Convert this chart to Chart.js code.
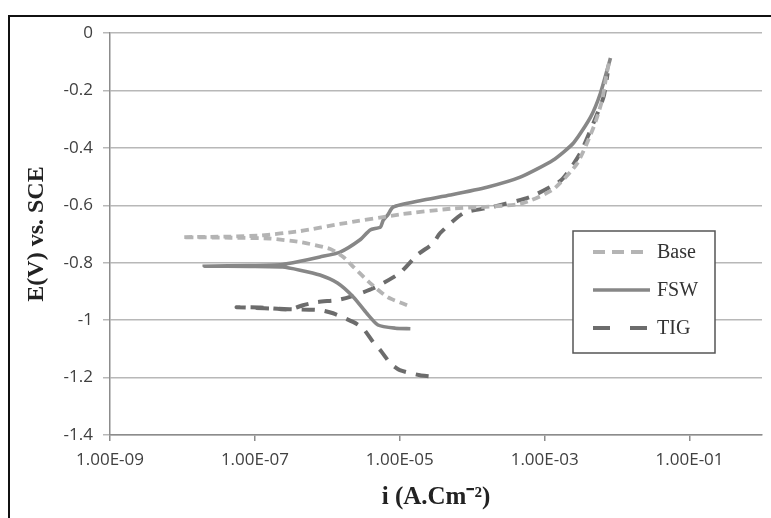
<!DOCTYPE html>
<html>
<head>
<meta charset="utf-8">
<script src="https://cdn.jsdelivr.net/npm/chart.js@4.4.1/dist/chart.umd.min.js"></script>
<style>
  html, body { margin: 0; padding: 0; background: #fff; }
  #wrap { width: 771px; height: 518px; }
</style>
</head>
<body>
<div id="wrap"><canvas id="chart" width="771" height="518"></canvas></div>
<script>
// tick labels on the current axis
const xTickValues = [1e-9, 1e-7, 1e-5, 1e-3, 1e-1];
const xTickLabels = ['1.00E-09', '1.00E-07', '1.00E-05', '1.00E-03', '1.00E-01'];

// Base metal: cathodic end -> Ecorr -> anodic end
const baseI = [1.26e-5, 6.8e-6, 3.9e-6, 2.3e-6, 1.66e-6, 1.1e-6, 4.2e-7, 1.6e-7, 4.6e-8, 1.0e-8,
  4.6e-8, 1.2e-7, 4.2e-7, 1.5e-6, 1.0e-5, 5.0e-5, 4.6e-4, 1.3e-3, 2.8e-3, 4.7e-3, 6.2e-3, 7.2e-3, 7.8e-3];
const baseE = [-0.948, -0.920, -0.871, -0.815, -0.780, -0.752, -0.728, -0.716, -0.713, -0.711,
  -0.709, -0.705, -0.690, -0.665, -0.632, -0.612, -0.595, -0.545, -0.455, -0.330, -0.235, -0.140, -0.100];

// FSW
const fswI = [1.4e-5, 8.7e-6, 5.0e-6, 3.5e-6, 2.3e-6, 1.38e-6, 7.9e-7, 4.2e-7, 2.4e-7, 8.5e-8, 2.0e-8,
  8.5e-8, 2.4e-7, 4.2e-7, 7.9e-7, 1.5e-6, 2.8e-6, 3.9e-6, 5.4e-6, 5.9e-6, 6.8e-6, 8.1e-6,
  1.9e-5, 5.0e-5, 1.6e-4, 4.6e-4, 1.3e-3, 2.5e-3, 4.3e-3, 5.9e-3, 8.1e-3];
const fswE = [-1.030, -1.028, -1.017, -0.976, -0.920, -0.871, -0.843, -0.826, -0.815, -0.813, -0.812,
  -0.810, -0.806, -0.795, -0.780, -0.763, -0.721, -0.686, -0.676, -0.652, -0.634, -0.606,
  -0.584, -0.564, -0.537, -0.502, -0.443, -0.383, -0.293, -0.209, -0.087];

// TIG
const tigI = [2.5e-5, 1.9e-5, 1.0e-5, 7.4e-6, 5.4e-6, 4.3e-6, 3.1e-6, 2.3e-6, 1.2e-6, 7.9e-7, 3.0e-7, 5.6e-8,
  1.2e-7, 3.0e-7, 4.6e-7, 7.2e-7, 1.38e-6, 2.0e-6, 4.3e-6, 1.0e-5, 1.74e-5, 2.9e-5, 3.6e-5, 7.6e-5,
  1.9e-4, 6.3e-4, 1.7e-3, 3.1e-3, 4.7e-3, 6.5e-3, 7.4e-3];
const tigE = [-1.195, -1.192, -1.174, -1.150, -1.105, -1.077, -1.028, -1.007, -0.976, -0.965, -0.962, -0.955,
  -0.956, -0.963, -0.948, -0.937, -0.930, -0.920, -0.889, -0.836, -0.773, -0.732, -0.697, -0.627,
  -0.606, -0.571, -0.512, -0.418, -0.314, -0.223, -0.140];

const toPoints = (xs, ys) => xs.map((x, k) => ({ x: x, y: ys[k] }));

// outer black frame of the figure
const framePlugin = {
  id: 'frame',
  beforeDraw(chart) {
    const ctx = chart.ctx;
    ctx.save();
    ctx.fillStyle = '#fff';
    ctx.fillRect(0, 0, chart.width, chart.height);
    ctx.strokeStyle = '#111';
    ctx.lineWidth = 2;
    ctx.strokeRect(9, 16, chart.width + 20, chart.height + 20);
    ctx.restore();
  }
};

// boxed legend inside the plot, drawn from the datasets
const boxLegend = {
  id: 'boxLegend',
  afterDraw(chart) {
    const ctx = chart.ctx;
    const bx = 573, by = 231, bw = 142, bh = 122;
    ctx.save();
    ctx.fillStyle = '#fff';
    ctx.fillRect(bx, by, bw, bh);
    ctx.strokeStyle = '#555';
    ctx.lineWidth = 1.5;
    ctx.strokeRect(bx, by, bw, bh);
    ctx.font = '20px "Liberation Serif", serif';
    ctx.textBaseline = 'middle';
    chart.data.datasets.forEach((ds, k) => {
      const y = by + 21 + k * 38;
      ctx.strokeStyle = ds.borderColor;
      ctx.lineWidth = ds.borderWidth;
      ctx.setLineDash(ds.legendDash || []);
      ctx.beginPath();
      ctx.moveTo(bx + 20, y);
      ctx.lineTo(bx + 77, y);
      ctx.stroke();
      ctx.setLineDash([]);
      ctx.fillStyle = '#333';
      ctx.fillText(ds.label, bx + 84, y + 1);
    });
    ctx.restore();
  }
};

const tickFont = { family: "'Open Sans', sans-serif", size: 17 };

new Chart(document.getElementById('chart'), {
  type: 'scatter',
  data: {
    datasets: [
      {
        label: 'Base',
        data: toPoints(baseI, baseE),
        showLine: true,
        borderColor: '#b4b4b4',
        borderWidth: 3.8,
        borderDash: [8, 5],
        legendDash: [12, 7],
        pointRadius: 0,
        tension: 0.2
      },
      {
        label: 'FSW',
        data: toPoints(fswI, fswE),
        showLine: true,
        borderColor: '#878787',
        borderWidth: 3.6,
        borderDash: [],
        pointRadius: 0,
        tension: 0.2
      },
      {
        label: 'TIG',
        data: toPoints(tigI, tigE),
        showLine: true,
        borderColor: '#6c6c6c',
        borderWidth: 4,
        borderDash: [13, 10],
        legendDash: [17, 20],
        pointRadius: 0,
        tension: 0.2
      }
    ]
  },
  options: {
    responsive: false,
    animation: false,
    events: [],
    layout: { padding: { top: 33, right: 9, left: 0, bottom: 0 } },
    plugins: {
      legend: { display: false },
      tooltip: { enabled: false }
    },
    scales: {
      x: {
        type: 'logarithmic',
        min: 1e-9,
        max: 1,
        afterBuildTicks: (scale) => {
          scale.ticks = xTickValues.map(v => ({ value: v }));
        },
        afterFit: (scale) => { scale.height = 83; },
        ticks: {
          autoSkip: false,
          maxRotation: 0,
          padding: 9,
          color: '#404040',
          font: tickFont,
          callback: (value) => {
            const k = xTickValues.findIndex(v => Math.abs(Math.log10(v) - Math.log10(value)) < 1e-6);
            return k >= 0 ? xTickLabels[k] : '';
          }
        },
        grid: {
          drawOnChartArea: false,
          drawTicks: true,
          tickLength: 6,
          color: '#8c8c8c',
          lineWidth: 1.5
        },
        border: { color: '#8c8c8c', width: 1.5 },
        title: {
          display: true,
          text: 'i (A.Cm⁻²)',
          color: '#222',
          font: { family: "'Liberation Serif', serif", size: 25, weight: 'bold' },
          padding: { top: 0, bottom: 5 }
        }
      },
      y: {
        min: -1.4,
        max: 0,
        afterFit: (scale) => { scale.width = 110; },
        ticks: {
          stepSize: 0.2,
          padding: 10,
          color: '#404040',
          font: tickFont,
          callback: (value) => String(Number(value.toFixed(1)))
        },
        grid: {
          color: '#b8b8b8',
          lineWidth: 1.5,
          tickLength: 7
        },
        border: { color: '#8c8c8c', width: 1.5 },
        title: {
          display: true,
          text: 'E(V) vs. SCE',
          color: '#222',
          font: { family: "'Liberation Serif', serif", size: 24, weight: 'bold' },
          padding: { top: 22, bottom: 0 }
        }
      }
    }
  },
  plugins: [framePlugin, boxLegend]
});
</script>
</body>
</html>
